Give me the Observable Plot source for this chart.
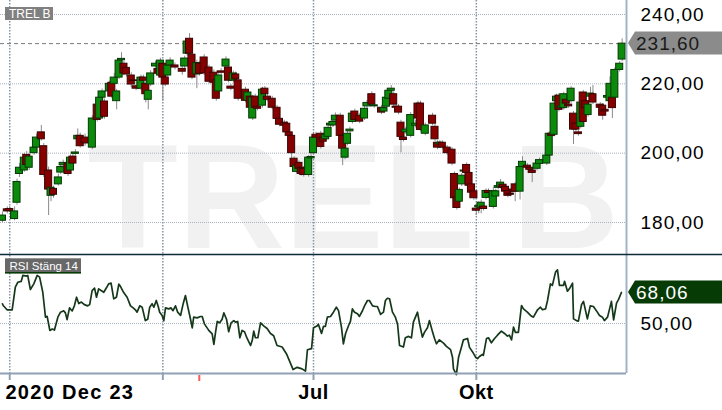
<!DOCTYPE html>
<html>
<head>
<meta charset="utf-8">
<script src="https://cdn.jsdelivr.net/npm/d3@7"></script>
<script src="https://cdn.jsdelivr.net/npm/@observablehq/plot@0.6"></script>
<style>
html, body { margin: 0; padding: 0; background: #fff; }
#chart { position: relative; width: 722px; height: 410px; overflow: hidden; background: #fff; }
#chart svg { position: absolute; left: 0; }
g[aria-label="y-axis tick label"] text { letter-spacing: 1px; }
g[aria-label="x-axis tick label"] text { letter-spacing: 0.5px; }
</style>
</head>
<body>
<div id="chart"></div>
<script>
// ---------- data ----------
const ticker = "TREL B";
const rsiTitle = "RSI Stäng 14";
const priceTicks = [180, 200, 220, 240];
const rsiTicks = [50];
const quarterDays = [3, 66, 128, 195];          // trading-day index of quarter starts
const quarterLabels = ["", "", "Jul", "Okt"];
const markerDays = [81];
const startLabel = [{day: 0, text: "2020 Dec 23"}];

// daily candles (trading-day index)
const day = [
  0,2,3,5,6,7,9,10,11,13,
  14,16,17,19,20,21,23,24,25,27,
  28,29,30,31,32,34,37,39,40,41,
  42,44,45,46,47,48,49,50,51,53,
  54,55,57,58,59,60,61,63,64,65,
  66,67,68,69,71,74,75,76,77,78,
  80,81,83,85,87,88,89,90,92,93,
  94,95,96,97,100,101,102,103,104,105,
  107,108,109,111,113,114,116,117,118,119,
  120,121,122,123,124,126,127,128,129,131,
  132,133,134,135,136,137,139,140,141,142,
  143,144,145,147,149,150,152,153,156,157,
  158,159,160,161,162,163,164,165,166,168,
  170,171,172,174,177,178,179,180,181,183,
  185,186,187,188,189,190,191,192,193,194,
  195,196,197,198,199,200,202,203,204,205,
  206,207,208,209,210,211,213,214,216,217,
  218,220,221,224,225,226,227,228,229,230,
  231,232,233,234,235,236,237,238,239,240,
  241,242,243,246,247,248,249,250,251,252,
  254,255
];
const open = [
  180.5,183.8,183.9,181,185.7,194,195,199.5,195.8,200,
  201.6,206,202,195,187.7,189.7,191,194.4,196.5,197,
  195,199,199.8,204,205,204.5,201.6,214,210,216,
  214.9,217.8,220.3,220,215,221.8,226.8,225.8,224.6,222.4,
  221,219.3,218.6,221.8,220,215.4,219.8,225,224.3,222.4,
  225.8,221.8,222.4,225.3,225.3,224.3,225,228.7,233,228.4,
  222.7,225.8,227.6,224.7,223.2,221,217.8,223.6,225,224.7,
  219.2,220.9,222.7,221,218.3,215.1,216.3,210,216.3,213.4,
  213.7,218.6,216.3,215.7,213.1,209.9,208.8,208.5,206,205,
  198.4,194.6,197.2,195.8,195.5,193.7,198.5,200,205.3,205.6,
  204.5,204,204.7,208,208,209.4,210.8,205,198.7,202.7,
  206.3,209,212,210.8,210,213.5,217,213.5,213.1,212,
  213.4,215.7,218,217,213.4,213.4,208.8,204.5,206,205,
  207.9,214.3,214.3,205.6,210.8,207.6,203,202.5,203,201.6,
  201,194,187.2,186,191,194.7,196.6,194.3,191,189,
  184,184.4,184.2,184.6,187.1,189.1,184.5,187.5,190,190.3,
  190.9,190.3,189.1,188.3,189.5,191,188.9,196,196.4,195.8,
  195,195.5,196.9,197,199.3,205.6,205.3,215,216.6,213,
  213,215.4,214,215,211.4,208.5,206,207.6,217.5,215,
  211,216.3,217,214,213.7,212.5,216,215,216,216,
  224,227
];
const high = [
  183,184.5,184.6,184.5,192.5,197,200,200.5,199.8,202.3,
  205.5,208,202.8,196,191,190.5,194,197,198,198,
  199.5,200,201,207,205.8,205.5,210.8,215,216.8,218.5,
  215.6,220.8,221,223,218.4,227.3,229,226.5,225.3,223.2,
  222,220.5,222.5,222.5,220.8,218.8,223.8,226.5,225,227.4,
  226.5,222.5,226,227.5,226,225.3,228,233,234.5,229.2,
  226.8,226.5,228.4,225.4,224,221.8,223.2,224.4,227.8,225.4,
  219.8,223.7,223.4,222,219,218.2,217,216.7,217,214,
  219,219.2,217,216.4,213.8,210.6,209.5,209.2,206.6,205.6,
  199,197,197.8,196.4,196.1,199.3,201,206,206,206.3,
  205.1,206,208,209.2,210,211.6,211.5,205.6,202,206.3,
  207.5,212.1,212.7,211.5,213.5,215.2,217.7,214.4,213.8,213.7,
  216.7,218.7,219.5,217.7,214,214.1,209.5,205.1,207.5,211.7,
  209.5,215,215,208.7,211.5,208.3,203.6,203.6,203.6,202.2,
  201.6,194.6,187.8,190,194.1,196.5,197.2,194.9,191.6,189.6,
  185.5,186,186.5,185.2,189.7,189.7,190,189.6,191.5,192.4,
  191.5,190.9,189.7,188.9,190.1,191.6,196.6,199,197,196.4,
  195.6,197.6,198.6,199.9,206.2,206.2,214.9,217,217.2,214.1,
  217.6,216,215,219.2,212,209.1,206.6,215.2,218.1,215.6,
  214.6,219,219.5,214.6,214.3,213.1,217.1,222,216.6,224.6,
  226.4,233
];
const low = [
  180,182.5,182.8,180.5,185,193,194.5,195.8,195,199.4,
  201,203.5,193,182,186,187,190.5,193.8,196,193.3,
  194.5,196.5,199.2,203.4,201.5,202,201,209,209.4,215.5,
  209.8,217.2,215.7,219.5,212.5,221.2,226.3,222.3,222,219,
  220.2,218,218,220.3,214.5,212.5,219.2,224.5,222.3,221.8,
  215,219.2,221.8,224.8,224,222.5,224.4,228,228,221.2,
  218.6,222.2,222.4,220,219.7,215,217.2,222.6,224.4,220.3,
  218,220.3,220.7,215,214.5,214.5,212.5,209.4,212.5,212.2,
  213,216.4,214.8,212.5,209.3,207.6,207.3,205.4,204.4,198.4,
  195.4,194,194.9,193.4,193.1,193.1,198,199.4,204,201.2,
  202.7,203.4,204.1,207.4,207.4,208.8,204.4,196.4,198.1,202.1,
  205.7,208.4,209,208.5,209.4,212.9,213.4,213,211.1,211.4,
  212.8,215.1,217.4,213.4,212.5,211.1,200.1,203.2,205.4,204.4,
  207.3,209.4,206.1,205,207.9,203.4,201,201.9,201,199.4,
  196.4,186.4,183.6,185.4,190.4,194.1,193.7,190,188,186.4,
  182,182.5,182.5,183.3,186.5,187.9,183.9,186.9,189.4,189.7,
  189.4,188.3,187.1,187.4,188.3,186,186.5,195.4,195.2,194.6,
  191.5,194.9,196.3,196.4,198.7,204.4,204.7,214.4,211.9,212.4,
  212.4,213.7,212.9,214.4,202.5,206.2,204.9,207,208.4,212.4,
  210.4,215.7,214,212.5,209.5,211.4,215.4,214.4,210,215.4,
  223.4,226.4
];
const close = [
  182,183.2,183.3,183.2,191.7,195.8,198.7,196.6,199,201.6,
  204.5,204,193.7,189.5,190,188,193,196,197.2,194,
  198.7,197,200.2,205,202,202.8,210,209.6,216,217.8,
  210.5,220,216.3,221.8,217.8,226.7,227.2,223,222.7,219.8,
  220.8,218.6,221.8,220.9,217,218,223,225.8,222.9,226.7,
  221.8,219.8,225.3,226.7,224.7,223.5,227.3,232.2,228.7,221.8,
  226,222.9,223,220.6,220.3,215.7,222.4,223.2,227,220.9,
  218.6,223,221.3,215.7,215.1,217.5,213.1,216,213.1,212.8,
  218.3,217,215.4,213.1,209.9,208.2,207.9,206,205,200,
  196,196.4,195.5,194,193.7,198.7,198.9,204.5,204.5,201.8,
  203.3,205.3,207.3,208.5,209,210.8,205,201.3,201.3,205.6,
  206.8,211.4,209.6,209.1,212.8,214.5,214,213.8,211.7,213,
  216,218,218.6,214,213.1,211.7,204.7,203.8,206.8,211,
  208.5,210,206.7,208,208.5,204,201.6,203,201.6,200,
  197,187,184.2,189.4,193.5,195,194.3,190.6,188.6,187,
  183.4,184.8,185.7,183.9,189.1,188.5,189,189,190.5,191.5,
  190,188.9,187.7,188,188.9,188.9,196,197.5,195.8,195.2,
  194.3,197,198,199.3,205.6,205,214.3,216.3,212.5,213.5,
  217,214.3,213.5,218.6,206.8,206.8,205.5,214.6,209,213,
  214,217.2,214.6,213.1,210.8,212,216.5,220,213,224,
  225.8,231.6
];

// RSI (14, close)
const rsiDay = [
  0,0.3,1.9,4.0,5.3,6.3,7.7,8.4,9.9,10.4,
  11.5,12.9,14.3,15.3,16.6,17.7,18.4,19.5,20.5,21.4,
  22.8,23.9,25.2,25.9,26.6,27.6,28.7,29.6,30.5,31.4,
  32.5,33.7,35.1,35.9,36.9,37.9,38.7,39.6,40.6,41.7,
  42.8,43.7,44.7,45.8,46.9,47.9,48.6,49.9,51.3,52.7,
  53.8,54.7,55.4,56.5,57.5,58.8,59.8,60.6,61.6,62.3,
  63.3,64.1,64.7,65.7,66.4,67.1,68.4,69.3,70.2,71.2,
  72.1,73.3,74.4,75.3,76.3,77.4,78.1,78.7,80.1,81.5,
  82.2,83.1,84.9,86.3,87.0,87.7,88.4,89.4,90.4,91.1,
  92.2,93.1,94.1,95.2,95.9,96.8,97.7,98.6,99.6,100.7,
  102.1,102.8,103.4,104.1,105.1,106.2,107.5,108.9,110.3,111.6,
  113.0,115.1,116.9,118.5,119.6,121.3,123.3,124.7,125.5,127.2,
  128.0,129.6,130.0,131.3,132.1,132.9,133.7,135.0,136.2,137.4,
  138.3,139.5,140.3,141.2,142.4,143.2,144.0,144.9,146.1,146.9,
  148.1,149.0,150.2,151.0,152.3,153.5,154.3,155.6,156.8,157.6,
  158.4,159.3,160.5,161.7,162.6,163.4,165.0,165.8,167.1,168.3,
  169.1,170.8,171.6,172.8,173.7,174.9,175.7,177.0,177.8,178.6,
  179.8,181.5,182.7,184.4,185.2,185.6,186.8,187.7,188.9,189.7,
  191.4,192.2,193.4,194.7,195.5,196.3,197.5,197.9,199.2,200.0,
  201.2,202.5,203.7,205.3,206.6,207.8,208.6,209.5,210.3,211.1,
  212.3,213.6,214.4,216.0,217.3,218.5,220.2,221.4,222.2,223.5,
  224.3,225.5,226.3,227.6,228.4,229.2,230.9,231.3,232.5,233.3,
  234.6,235.0,236.2,237.0,238.3,239.1,240.7,241.9,243.2,244.4,
  245.7,246.9,247.7,249.0,250.6,251.5,252.7,253.5,254.7
];
const rsiValue = [
  61.5,60.5,58,58,71.2,74,74.5,78,77.6,78,
  69.8,73.1,78,77,68.2,53.7,54.2,46,46.8,46.2,
  53.7,56.6,57.4,56.2,52.3,59.1,57.3,60.3,65.3,61.6,
  62.5,61,60.3,61,69.2,70.6,65.3,70.2,69.2,68.2,
  70.8,73.1,73.5,64.4,65.3,72.9,71.5,68,65.3,60.3,
  59.1,58,56.6,60.3,59.5,51.7,52.5,59.5,61.5,59.5,
  63.4,59.9,56.6,54.7,51.7,59.1,58.5,59.1,57.5,60.3,
  56.6,54.7,61.7,66.3,59.5,52.5,47.5,53.7,53.3,54.1,
  54.1,49.8,46,44,37.8,45,51.2,50.4,52.5,56.2,
  52.5,45.2,50.4,51.7,50.8,51.2,41.7,46,45.2,41.3,
  37.2,40.2,45.6,41.7,41.7,50.4,48.6,47.1,44.2,42.9,
  37.2,36.3,32.3,26.9,23.2,24.5,23.6,22.3,34.7,35.4,
  47.5,48.7,49.6,44.2,48.3,48.3,53.7,54.1,56.6,59.5,
  57.5,47.9,38.2,44.2,48.7,51.2,58.5,56.6,55.7,54.1,
  57.3,60.3,63.4,63.4,60.3,59.9,59.9,55.3,56.6,63.4,
  64.7,64.4,56.6,53.7,49.6,37.2,36.3,41.7,42.5,41.7,
  50.8,56.6,50.2,42.1,45,47.5,51.7,45,41.3,38.2,
  40.5,38.6,36.7,34.8,30.4,23.6,20.3,30.4,36.3,40.5,
  41.3,36.1,33.6,30.4,29.6,30.8,32,31.4,41.3,41.7,
  38.8,41.3,43.2,45.6,44.2,42.7,43.2,40.5,47.9,44.8,
  44.8,60.5,58.5,56.6,54.7,53.7,58,59.5,58,58.5,
  63.4,73.1,72.2,79.9,81.2,72.2,72.2,74.6,68.8,70.2,
  73.5,52.7,51.7,51.4,61,62.9,52.7,60.3,59.9,57.5,
  54.7,53.7,51.7,53.7,62.9,52.1,61.9,63.9,68.06
];

// ---------- build ----------
const n = Math.min(day.length, open.length, high.length, low.length, close.length);
const candles = d3.range(n).map(i => ({day: day[i], open: open[i], high: high[i], low: low[i], close: close[i]}));
const lastClose = close[n - 1];
const m = Math.min(rsiDay.length, rsiValue.length);
const rsiSeries = d3.range(m).map(i => ({day: rsiDay[i], value: rsiValue[i]}));
const lastRsi = rsiValue[m - 1];

const fmt = v => v.toFixed(2).replace(".", ",");
const FONT = "'Liberation Sans', Arial, Helvetica, sans-serif";
const xDomain = [-0.8, 256.8];
const priceDomain = [170.77, 244.04];
const rsiDomain = [20.9, 89.6];
const upFill = "#0b8a0b", upStroke = "#053805", dnFill = "#870000", dnStroke = "#3a0303";
const isUp = d => d.close >= d.open;

const pricePlot = Plot.plot({
  width: 722, height: 254,
  marginTop: 0, marginBottom: 0, marginLeft: 0, marginRight: 96,
  style: {fontFamily: FONT, background: "transparent", overflow: "visible"},
  x: {domain: xDomain, axis: null},
  y: {domain: priceDomain, axis: null},
  marks: [
    Plot.text([ticker], {frameAnchor: "bottom-left", textAnchor: "start", lineAnchor: "bottom",
      dx: 87, dy: -7, fontSize: 148, fontWeight: "bold", fill: "#f1f1f1", fontFamily: FONT}),
    Plot.ruleY(priceTicks, {stroke: "#a9b3be", strokeDasharray: "1,1"}),
    Plot.ruleX(quarterDays, {stroke: "#8494a4", strokeWidth: 1.5, strokeDasharray: "1.5,1.5"}),
    Plot.ruleY([lastClose], {stroke: "#7a7a7a", strokeDasharray: "4,3"}),
    Plot.ruleX(candles, {x: "day", y1: "low", y2: "high", stroke: "#8a8a8a", strokeWidth: 1}),
    Plot.rect(candles, {
      x1: d => d.day - 1.45, x2: d => d.day + 1.45, y1: "open", y2: "close",
      fill: d => isUp(d) ? upFill : dnFill,
      stroke: d => isUp(d) ? upStroke : dnStroke, strokeWidth: 1
    }),
    Plot.ruleX([xDomain[1]], {stroke: "#a2b2c4", strokeWidth: 2}),
    Plot.axisY(priceTicks, {anchor: "right", tickSize: 0, tickPadding: 14, tickFormat: fmt,
      fontSize: 19, fill: "#000", label: null})
  ]
});
pricePlot.style.top = "0px";

const rsiPlot = Plot.plot({
  width: 722, height: 156,
  marginTop: 1, marginBottom: 37, marginLeft: 0, marginRight: 96,
  style: {fontFamily: FONT, background: "transparent", overflow: "visible"},
  x: {domain: xDomain, axis: null},
  y: {domain: rsiDomain, axis: null},
  marks: [
    Plot.ruleY(rsiTicks, {stroke: "#a9b3be", strokeDasharray: "1,1"}),
    Plot.ruleX(quarterDays, {stroke: "#8494a4", strokeWidth: 1.5, strokeDasharray: "1.5,1.5"}),
    Plot.line(rsiSeries, {x: "day", y: "value", stroke: "#15381a", strokeWidth: 1.7}),
    Plot.ruleX([xDomain[1]], {stroke: "#a2b2c4", strokeWidth: 2}),
    Plot.ruleY([rsiDomain[0]], {stroke: "#8fa1b5", strokeWidth: 2}),
    Plot.axisX(quarterDays, {anchor: "bottom", tickSize: 7, tickPadding: 4, stroke: "#8fa1b5",
      strokeWidth: 2, fill: "#000", fontSize: 20, fontWeight: "bold",
      tickFormat: d => quarterLabels[quarterDays.indexOf(d)], label: null}),
    Plot.axisX(markerDays, {anchor: "bottom", tickSize: 6, stroke: "#ff5a5a", strokeWidth: 2,
      tickFormat: () => "", label: null, dy: 2}),
    Plot.text(startLabel, {x: "day", text: "text", frameAnchor: "bottom", textAnchor: "start",
      lineAnchor: "top", dx: 3, dy: 11, fontSize: 20, fontWeight: "bold", fill: "#000"}),
    Plot.axisY(rsiTicks, {anchor: "right", tickSize: 0, tickPadding: 14, tickFormat: fmt,
      fontSize: 19, fill: "#000", label: null})
  ]
});
rsiPlot.style.top = "254px";

const chart = document.getElementById("chart");
chart.appendChild(pricePlot);
chart.appendChild(rsiPlot);

// widen the start-date label slightly, as in the reference
d3.select(rsiPlot).selectAll("text")
  .filter(function () { return this.textContent === startLabel[0].text; })
  .attr("letter-spacing", "1.3px");

// ---------- annotations ----------
function tag(svg, y, fill, color, txt) {
  const s = d3.select(svg);
  s.append("path")
    .attr("d", `M628,${y} L635,${y - 11.5} L722,${y - 11.5} L722,${y + 11.5} L635,${y + 11.5} Z`)
    .attr("fill", fill);
  s.append("text").attr("x", 636).attr("y", y).attr("dy", "0.36em")
    .attr("text-anchor", "start")
    .attr("fill", color).attr("font-size", 19).attr("font-family", FONT)
    .attr("letter-spacing", "1px").text(txt);
}
tag(pricePlot, pricePlot.scale("y").apply(lastClose), "#8b8b8b", "#1a1a1a", fmt(lastClose));
tag(rsiPlot, rsiPlot.scale("y").apply(lastRsi), "#063b06", "#ffffff", fmt(lastRsi));

// ticker label
const ps = d3.select(pricePlot);
ps.append("rect").attr("x", 5).attr("y", 7).attr("width", 48).attr("height", 13).attr("fill", "#808080");
ps.append("text").attr("x", 9).attr("y", 17.5).attr("text-anchor", "start").attr("fill", "#fff")
  .attr("font-size", 12).attr("font-family", FONT).text(ticker);

// RSI panel separator and label
const rs = d3.select(rsiPlot);
rs.append("line").attr("x1", 0).attr("x2", 722).attr("y1", 0.5).attr("y2", 0.5)
  .attr("stroke", "#0e2b3c").attr("stroke-width", 1.6);
rs.append("rect").attr("x", 5).attr("y", 4.3).attr("width", 76).attr("height", 13.7).attr("fill", "#686868");
rs.append("rect").attr("x", 5).attr("y", 18).attr("width", 76).attr("height", 1.6).attr("fill", "#063b06");
rs.append("text").attr("x", 9.5).attr("y", 15.5).attr("text-anchor", "start").attr("fill", "#fff")
  .attr("font-size", 11.5).attr("font-family", FONT).text(rsiTitle);
</script>
</body>
</html>
